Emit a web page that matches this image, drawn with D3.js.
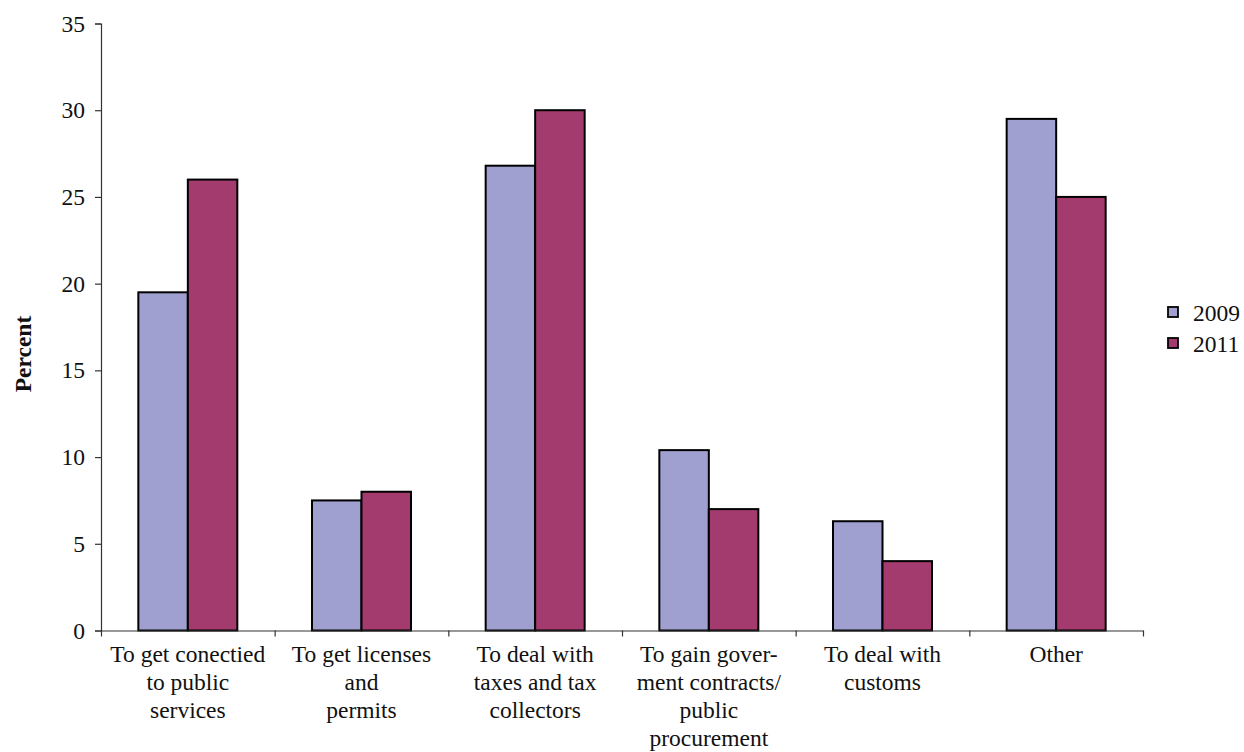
<!DOCTYPE html>
<html>
<head>
<meta charset="utf-8">
<script src="https://cdn.jsdelivr.net/npm/d3@7"></script>
<style>
  html, body { margin: 0; padding: 0; background: #ffffff; }
  svg { display: block; font-family: "Liberation Serif", "Times New Roman", serif; }
  svg text { font-family: "Liberation Serif", "Times New Roman", serif; }
</style>
</head>
<body>
<svg id="chart" width="1244" height="752"></svg>
<script>
const categories = [
  "To get conectied to public services",
  "To get licenses and permits",
  "To deal with taxes and tax collectors",
  "To gain goverment contracts/ public procurement",
  "To deal with customs",
  "Other"
];
const categoryLines = [
  ["To get conectied", "to public", "services"],
  ["To get licenses", "and", "permits"],
  ["To deal with", "taxes and tax", "collectors"],
  ["To gain gover-", "ment contracts/", "public", "procurement"],
  ["To deal with", "customs"],
  ["Other"]
];
const seriesNames = ["2009", "2011"];
const values2009 = [19.5, 7.5, 26.8, 10.4, 6.3, 29.5];
const values2011 = [26, 8, 30, 7, 4, 25];
const yTicks = [0, 5, 10, 15, 20, 25, 30, 35];
const colors = ["#A0A0D0", "#A33B6F"];

const svg = d3.select("#chart");
const fontSize = 23.5;

const plotLeft = 101, plotRight = 1143, plotTop = 23.5, plotBottom = 630.5;

const y = d3.scaleLinear().domain([0, 35]).range([plotBottom, plotTop]);
const x0 = d3.scaleBand().domain(categories).range([plotLeft, plotRight]).padding(0);
const bw = x0.bandwidth();
const gw = bw * 0.57;
const x1 = d3.scaleBand().domain(seriesNames).range([(bw - gw) / 2, (bw + gw) / 2]).padding(0);

const data = categories.map((c, i) => ({
  cat: c,
  vals: [
    { s: seriesNames[0], v: values2009[i] },
    { s: seriesNames[1], v: values2011[i] }
  ]
}));

// bars
const groups = svg.append("g").selectAll("g").data(data).join("g")
  .attr("transform", d => `translate(${x0(d.cat)},0)`);
groups.selectAll("rect").data(d => d.vals).join("rect")
  .attr("x", d => x1(d.s))
  .attr("y", d => y(d.v))
  .attr("width", x1.bandwidth())
  .attr("height", d => y(0) - y(d.v))
  .attr("fill", (d, i) => colors[i])
  .attr("stroke", "#000")
  .attr("stroke-width", 2);

// y axis
const yAxis = d3.axisLeft(y).tickValues(yTicks).tickSize(6).tickPadding(10).tickFormat(d3.format("d"));
const gy = svg.append("g").attr("transform", `translate(${plotLeft},0)`).call(yAxis);
gy.attr("font-family", null);
gy.select(".domain").attr("stroke", "#333").attr("stroke-width", 1.2);
gy.selectAll(".tick line").attr("stroke", "#333").attr("stroke-width", 1.2);
gy.selectAll(".tick text").attr("font-size", fontSize).attr("fill", "#111");

// x axis (boundary ticks)
const xIdx = d3.scaleLinear().domain([0, categories.length]).range([plotLeft, plotRight]);
const xAxis = d3.axisBottom(xIdx).tickValues(d3.range(categories.length + 1)).tickSize(6).tickSizeOuter(0).tickFormat("");
const gx = svg.append("g").attr("transform", `translate(0,${plotBottom})`).call(xAxis);
gx.select(".domain").attr("stroke", "#333").attr("stroke-width", 1.2);
gx.selectAll(".tick line").attr("stroke", "#333").attr("stroke-width", 1.2);

// category labels
const lineH = 28;
const labels = svg.append("g").selectAll("text").data(categories).join("text")
  .attr("text-anchor", "middle")
  .attr("font-size", fontSize)
  .attr("fill", "#111")
  .attr("x", d => x0(d) + bw / 2)
  .attr("y", 662);
labels.each(function(d, i) {
  const t = d3.select(this);
  categoryLines[i].forEach((ln, j) => {
    t.append("tspan").attr("x", x0(d) + bw / 2).attr("dy", j === 0 ? 0 : lineH).text(ln);
  });
});

// y axis title
svg.append("text")
  .attr("transform", `translate(31,354) rotate(-90)`)
  .attr("text-anchor", "middle")
  .attr("font-size", fontSize)
  .attr("font-weight", "bold")
  .attr("fill", "#111")
  .text("Percent");

// legend
const legend = svg.append("g").selectAll("g").data(seriesNames).join("g")
  .attr("transform", (d, i) => `translate(1168,${312 + i * 31})`);
legend.append("rect")
  .attr("x", 0).attr("y", -5).attr("width", 10).attr("height", 10)
  .attr("fill", (d, i) => colors[i])
  .attr("stroke", "#000").attr("stroke-width", 1.8);
legend.append("text")
  .attr("x", 25).attr("y", 9)
  .attr("font-size", fontSize)
  .attr("fill", "#111")
  .text(d => d);
</script>
</body>
</html>
